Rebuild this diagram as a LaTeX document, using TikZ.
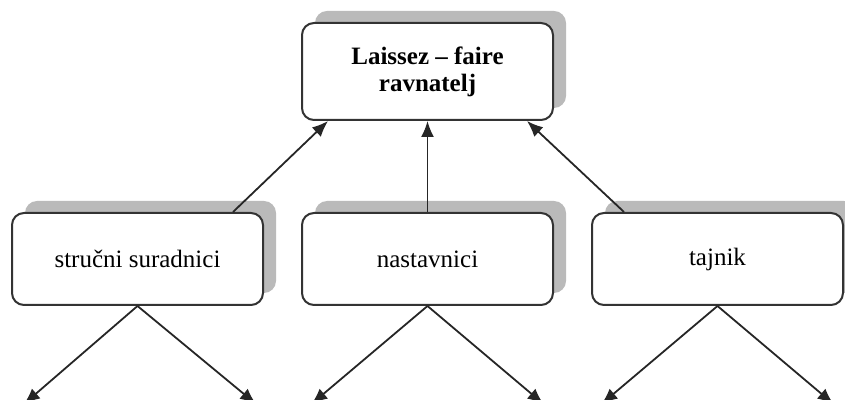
\documentclass[tikz,border=0pt]{standalone}
\usepackage{fontspec}
\setmainfont{Liberation Serif}
\usetikzlibrary{arrows.meta,shadows}

\begin{document}
\begin{tikzpicture}[x=0.5pt,y=-0.5pt,
	role/.style={draw=black!80,line width=1pt,rounded corners=6pt,fill=white,
		minimum width=125.5pt,minimum height=46pt,align=center,
		font=\fontsize{12.5}{13.5}\selectfont,
		general shadow={fill=black!27,shadow xshift=6.5pt,shadow yshift=6pt}},
	link/.style={draw=black!85,line width=0.9pt,-{Latex[length=8pt,width=6.5pt]}}]
	\useasboundingbox (0,0) rectangle (845,400);
	\node[role,minimum width=125.5pt,minimum height=48.5pt,font=\fontsize{12.5}{13.5}\selectfont\bfseries] (head) at (427.5,71.5) {Laissez – faire\\ravnatelj};
	\node[role] (strucni) at (137.5,259) {stručni suradnici};
	\node[role] (nastavnici) at (427.5,259) {nastavnici};
	\node[role] (tajnik) at (717.5,259) {tajnik};
	\draw[link] ([xshift=47.75pt]strucni.north) -- ([xshift=-49.75pt]head.south);
	\draw[link] (nastavnici.north) -- (head.south);
	\draw[link] ([xshift=-46.75pt]tajnik.north) -- ([xshift=49.75pt]head.south);
	\coordinate (s1) at (24,404);
	\coordinate (s2) at (256,404);
	\coordinate (n1) at (311.5,404);
	\coordinate (n2) at (543.5,404);
	\coordinate (t1) at (601.5,404);
	\coordinate (t2) at (833.5,404);
	\draw[link] (strucni.south) -- (s1);
	\draw[link] (strucni.south) -- (s2);
	\draw[link] (nastavnici.south) -- (n1);
	\draw[link] (nastavnici.south) -- (n2);
	\draw[link] (tajnik.south) -- (t1);
	\draw[link] (tajnik.south) -- (t2);
\end{tikzpicture}
\end{document}
